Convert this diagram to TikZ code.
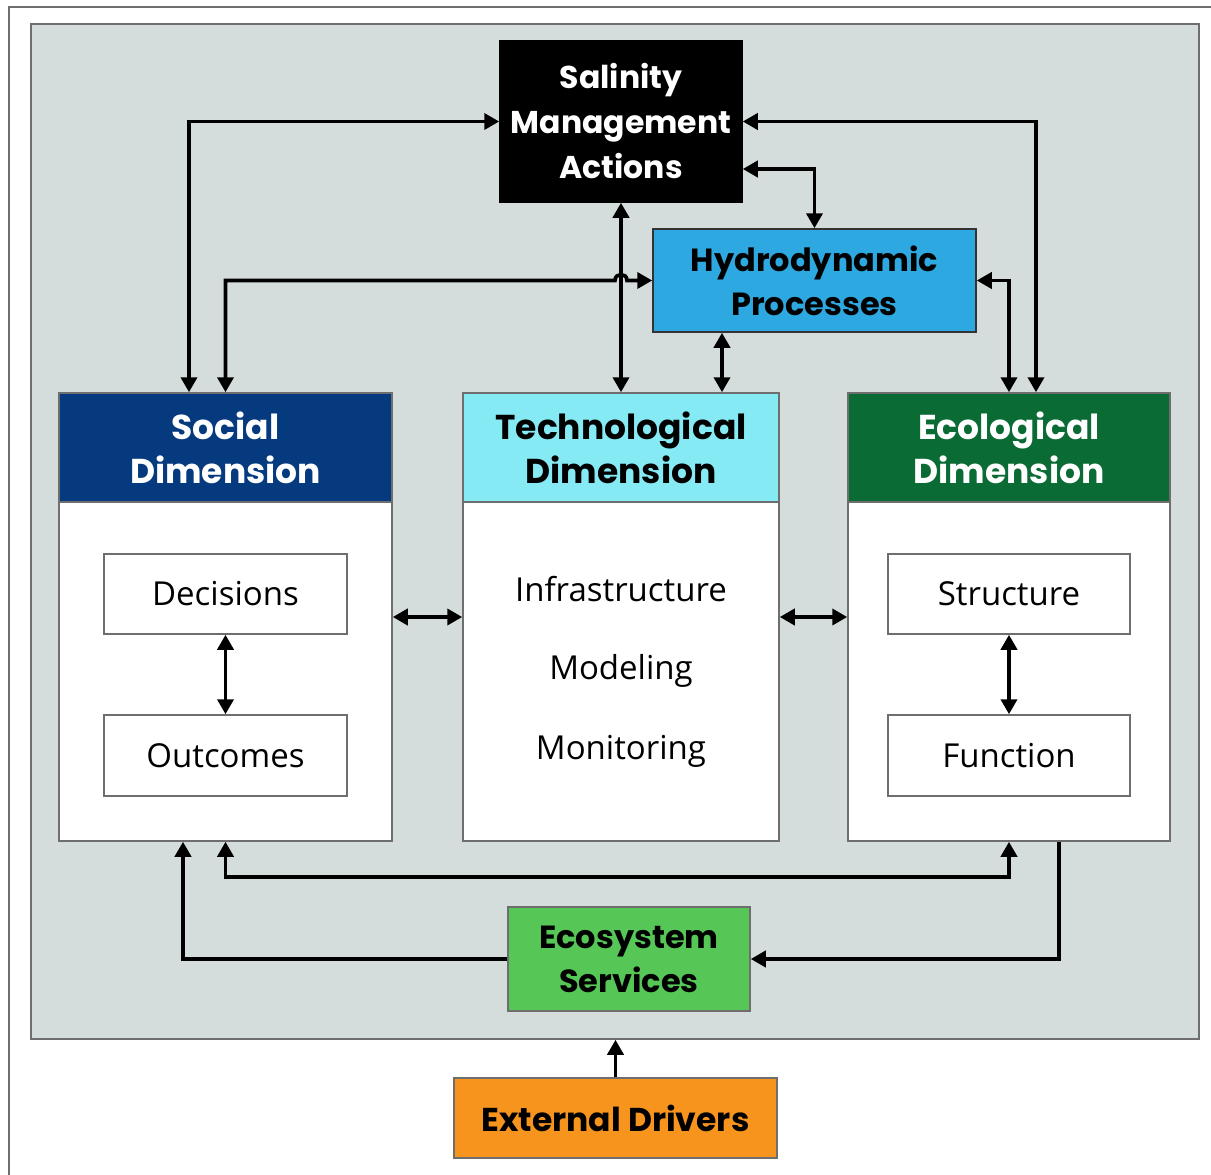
\documentclass[tikz,border=0pt]{standalone}
\usepackage{fontspec}
\setmainfont{Open Sans}
\newfontfamily\headfont{Poppins}
\usetikzlibrary{arrows.meta,calc}

\definecolor{panelgray}{HTML}{D5DDDC}
\definecolor{framegray}{HTML}{6E6E6E}
\definecolor{socialblue}{HTML}{053A7E}
\definecolor{techcyan}{HTML}{86EAF4}
\definecolor{ecogreen}{HTML}{0B6B35}
\definecolor{hydroblue}{HTML}{2DA8E0}
\definecolor{servgreen}{HTML}{56C656}
\definecolor{extorange}{HTML}{F6941E}

\begin{document}
\begin{tikzpicture}[x=1pt,y=-1pt,
  tip/.tip={Triangle[length=15pt,width=16pt]},
  conn/.style={line width=3.7pt,black,tip-tip},
  arr/.style={line width=3.7pt,black,-tip},
  box/.style={draw=framegray,line width=1.5pt,rectangle,inner sep=0pt,align=center},
  headtxt/.style={font=\headfont\bfseries\fontsize{32}{44}\selectfont},
  dimtxt/.style={font=\headfont\bfseries\fontsize{34.5}{44}\selectfont},
  bodytxt/.style={font=\fontsize{33}{33}\selectfont}]

\useasboundingbox (0,0) rectangle (1211,1175);

% outer frame and shaded panel
\draw[framegray,line width=2pt] (9,1180) -- (9,7) -- (1215,7);
\node[box,fill=panelgray,minimum width=1168pt,minimum height=1015pt] (panel) at (615,531.5) {};

% top boxes
\node[box,draw=black,fill=black,text=white,minimum width=242pt,minimum height=161pt,
  font=\headfont\bfseries\fontsize{31.5}{45}\selectfont] (sal) at (621,121.5) {Salinity\\Management\\Actions};
\node[box,draw=black!80,fill=hydroblue,headtxt,minimum width=323pt,minimum height=103pt] (hyd) at (814.5,280.5) {Hydrodynamic\\Processes};

% dimension headers
\node[box,fill=socialblue,text=white,dimtxt,minimum width=333pt,minimum height=109pt] (socH) at (225.5,447.5) {Social\\Dimension};
\node[box,fill=techcyan,dimtxt,minimum width=316pt,minimum height=109pt] (tecH) at (621,447.5) {Technological\\Dimension};
\node[box,fill=ecogreen,text=white,dimtxt,minimum width=322pt,minimum height=109pt] (ecoH) at (1009,447.5) {Ecological\\Dimension};

% dimension bodies
\node[box,fill=white,minimum width=333pt,minimum height=339pt] (socB) at (225.5,671.5) {};
\node[box,fill=white,minimum width=316pt,minimum height=339pt] (tecB) at (621,671.5) {};
\node[box,fill=white,minimum width=322pt,minimum height=339pt] (ecoB) at (1009,671.5) {};

% inner boxes
\node[box,fill=white,bodytxt,minimum width=243pt,minimum height=80pt] (dec) at (225.5,594) {Decisions};
\node[box,fill=white,bodytxt,minimum width=243pt,minimum height=81pt] (out) at (225.5,755.5) {Outcomes};
\node[box,fill=white,bodytxt,minimum width=242pt,minimum height=80pt] (str) at (1009,594) {Structure};
\node[box,fill=white,bodytxt,minimum width=242pt,minimum height=81pt] (fun) at (1009,755.5) {Function};

% technology items
\node[bodytxt] (infra) at (621,589) {Infrastructure};
\node[bodytxt] (model) at (621,671) {Modeling};
\node[bodytxt] (monit) at (621,751) {Monitoring};

% bottom boxes
\node[box,fill=servgreen,headtxt,minimum width=242pt,minimum height=104pt] (ess) at (629,959) {Ecosystem\\Services};
\node[box,fill=extorange,headtxt,font=\headfont\bfseries\fontsize{33}{44}\selectfont,minimum width=323pt,minimum height=80pt] (ext) at (615.5,1118) {External Drivers};

% connectors from the management box
\draw[conn] (sal.west) -| ($(socH.north)+(-36.5,0)$);
\draw[conn] (sal.east) -| ($(ecoH.north)+(27,0)$);
\draw[conn] ($(sal.east)+(0,47.5)$) -| (hyd.north);
\draw[conn] (sal.south) -- (tecH.north);

% social to hydrodynamics, hopping over the vertical line
\coordinate (hop) at (tecH.north |- hyd.west);
\draw[conn] (socH.north) |- ($(hop)+(-6,0)$)
  .. controls ($(hop)+(-6,-8)$) and ($(hop)+(6,-8)$) .. ($(hop)+(6,0)$) -- (hyd.west);

% hydrodynamics to technology and ecology
\coordinate (hx) at ($(hyd.south)+(-92.5,0)$);
\draw[conn] (hx) -- (hx |- tecH.north);
\draw[conn] (hyd.east) -| (ecoH.north);

% links between the dimensions
\draw[conn] ($(socB.east)+(0,-54.5)$) -- ($(tecB.west)+(0,-54.5)$);
\draw[conn] ($(tecB.east)+(0,-54.5)$) -- ($(ecoB.west)+(0,-54.5)$);
\draw[conn] (dec.south) -- (out.north);
\draw[conn] (str.south) -- (fun.north);
\draw[conn] (socB.south) -- ++(0,35) -| (ecoB.south);

% ecosystem services loop
\draw[arr] (ess.west) -| ($(socB.south)+(-42.5,0)$);
\draw[arr] ($(ecoB.south)+(50,0)$) |- (ess.east);

% external drivers
\draw[arr] (ext.north) -- (ext.north |- panel.south);

\end{tikzpicture}
\end{document}
